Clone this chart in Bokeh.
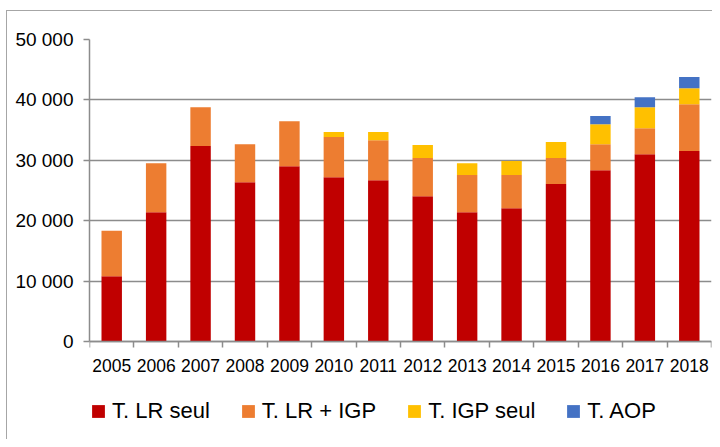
from bokeh.plotting import figure
from bokeh.models import (ColumnDataSource, Range1d, FixedTicker, Legend, LegendItem)
from bokeh.core.properties import value
from bokeh.embed import file_html
from bokeh.resources import INLINE

years = ["2005", "2006", "2007", "2008", "2009", "2010", "2011", "2012",
         "2013", "2014", "2015", "2016", "2017", "2018"]
lr_seul = [10850, 21450, 32400, 26400, 29050, 27250, 26750, 24100,
           21450, 22100, 26100, 28400, 31050, 31550]
lr_igp = [7550, 8100, 6400, 6300, 7450, 6650, 6600, 6300,
          6150, 5500, 4300, 4300, 4300, 7750]
igp_seul = [0, 0, 0, 0, 0, 800, 1350, 2150,
            1950, 2300, 2650, 3300, 3450, 2650]
aop = [0, 0, 0, 0, 0, 0, 0, 0,
       0, 0, 0, 1350, 1650, 1850]
series = ["T. LR seul", "T. LR + IGP", "T. IGP seul", "T. AOP"]
colors = ["#C00000", "#ED7D31", "#FFC000", "#4472C4"]
y_ticks = [0, 10000, 20000, 30000, 40000, 50000]
y_labels = ["0", "10 000", "20 000", "30 000", "40 000", "50 000"]

xpos = [i + 0.5 for i in range(len(years))]
source = ColumnDataSource(dict(x=xpos, year=years, base=[0] * len(years),
                               **{series[0]: lr_seul, series[1]: lr_igp,
                                  series[2]: igp_seul, series[3]: aop}))

FONT = "Liberation Sans"
GRID = "#8C8C8C"

# frame spans from the top gridline down to the legend row; the x axis sits at y = 0
Y_MAX = 50000
Y_MIN = -13970

p = figure(width=706, height=429, output_backend="svg", toolbar_location=None,
           x_range=Range1d(0, len(years)), y_range=Range1d(Y_MIN, Y_MAX),
           min_border_left=82, min_border_right=2, min_border_top=28,
           min_border_bottom=14)
p.outline_line_color = None
p.background_fill_color = "white"
p.border_fill_color = "white"
p.styles = {"margin-left": "6px", "margin-top": "10px",
            "border-left": "1px solid #A6A6A6", "border-top": "1px solid #A6A6A6"}

renderers = p.vbar_stack(series, x="x", width=0.46, color=colors, source=source,
                         line_color=None)

# year labels under the axis
p.text(x="x", y="base", text="year", source=source, y_offset=17,
       text_align="center", text_baseline="top", text_color="black",
       text_font=value(FONT), text_font_size="17.5px")

# y axis
p.yaxis.ticker = FixedTicker(ticks=y_ticks, minor_ticks=[])
p.yaxis.major_label_overrides = {t: l for t, l in zip(y_ticks, y_labels)}
p.yaxis.bounds = (0, Y_MAX)
p.yaxis.axis_line_color = GRID
p.yaxis.axis_line_width = 1.5
p.yaxis.major_tick_line_color = GRID
p.yaxis.major_tick_line_width = 1.5
p.yaxis.major_tick_out = 6
p.yaxis.major_tick_in = 0
p.yaxis.major_label_standoff = 10
p.yaxis.major_label_text_font = FONT
p.yaxis.major_label_text_font_size = "19px"
p.yaxis.major_label_text_color = "black"

# x axis drawn at y = 0 with boundary ticks
p.xaxis.fixed_location = 0
p.xaxis.ticker = FixedTicker(ticks=xpos, minor_ticks=list(range(len(years) + 1)))
p.xaxis.major_label_overrides = {x: "" for x in xpos}
p.xaxis.axis_line_color = GRID
p.xaxis.axis_line_width = 1.5
p.xaxis.major_tick_line_color = None
p.xaxis.major_tick_out = 0
p.xaxis.major_tick_in = 0
p.xaxis.minor_tick_line_color = GRID
p.xaxis.minor_tick_line_width = 1.5
p.xaxis.minor_tick_out = 6
p.xaxis.minor_tick_in = 0
p.xaxis.major_label_standoff = 0

p.xgrid.grid_line_color = None
p.ygrid.grid_line_color = GRID
p.ygrid.grid_line_width = 1.5

legend = Legend(items=[LegendItem(label=s, renderers=[r]) for s, r in zip(series, renderers)],
                orientation="horizontal", location=(1, 2))
legend.label_text_font = FONT
legend.label_text_font_size = "22px"
legend.label_text_color = "black"
legend.glyph_width = 16
legend.glyph_height = 16
legend.label_standoff = 6
legend.spacing = 30
legend.padding = 0
legend.margin = 0
legend.border_line_color = None
legend.background_fill_alpha = 0
p.add_layout(legend, "center")

open("out.html", "w").write(file_html(p, INLINE))
